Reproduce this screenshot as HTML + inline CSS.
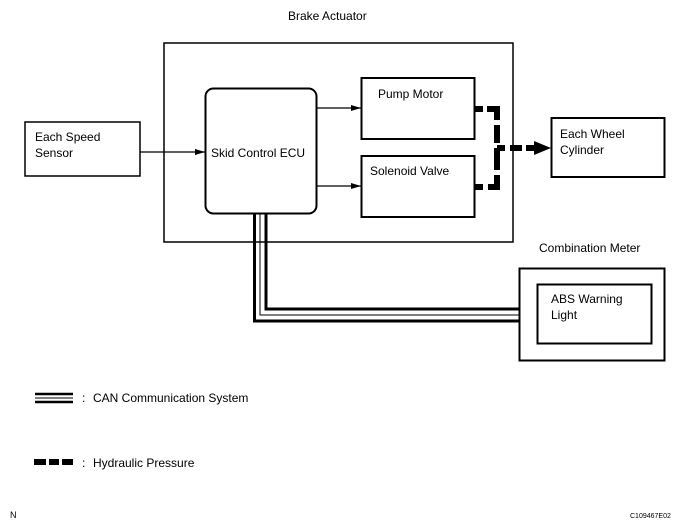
<!DOCTYPE html>
<html><head><meta charset="utf-8"><style>
body{margin:0;background:#fff}
svg{display:block}
text{font-family:"Liberation Sans",Arial,sans-serif;fill:#000}
</style></head><body>
<svg width="690" height="528" viewBox="0 0 690 528">
<defs><marker id="a" markerWidth="10" markerHeight="6" refX="10" refY="3" orient="auto" markerUnits="userSpaceOnUse"><path d="M0,0L10,3L0,6z"/></marker></defs>
<g fill="none" stroke="#000">
<rect x="164" y="43" width="349" height="199" stroke-width="1.5"/>
<rect x="205.5" y="88.5" width="111" height="125" rx="8" stroke-width="2"/>
<rect x="361.5" y="78" width="113" height="61" stroke-width="2"/>
<rect x="361.5" y="156" width="113" height="61" stroke-width="2"/>
<rect x="25" y="122" width="115" height="54" stroke-width="1.5"/>
<rect x="551.5" y="118" width="113" height="59" stroke-width="2"/>
<rect x="519.5" y="268.5" width="145" height="92" stroke-width="2"/>
<rect x="537.5" y="284.5" width="114" height="59" stroke-width="2"/>
<g stroke-width="1.2">
<line x1="140" y1="152" x2="205" y2="152" marker-end="url(#a)"/>
<line x1="317" y1="108" x2="361" y2="108" marker-end="url(#a)"/>
<line x1="317" y1="186" x2="361" y2="186" marker-end="url(#a)"/>
</g>
<g stroke-width="6">
<path d="M475,109H483M487,109H497V120M497,125V143M497,148V170M497,175V187H488M483,187H475"/>
<path d="M497,148H505M510,148H522M526,148H536"/>
</g>
<g stroke-width="3">
<path d="M254.5,214V321H519"/>
<path d="M266,214V309H519"/>
</g>
<path d="M260,214V315H519" stroke-width="1"/>
<path d="M35,394H73M35,402H73" stroke-width="2.5"/>
<path d="M35,398H73" stroke-width="1"/>
<path d="M34,462H46M49,462H59M62,462H73" stroke-width="6"/>
</g>
<path d="M534,141L551,148L534,155z"/>
<g font-size="12">
<text x="288" y="20">Brake Actuator</text>
<text x="211" y="157">Skid Control ECU</text>
<text x="378" y="98">Pump Motor</text>
<text x="370" y="175">Solenoid Valve</text>
<text x="35" y="141">Each Speed</text>
<text x="35" y="157">Sensor</text>
<text x="560" y="138">Each Wheel</text>
<text x="560" y="154">Cylinder</text>
<text x="539" y="252">Combination Meter</text>
<text x="551" y="303">ABS Warning</text>
<text x="551" y="319">Light</text>
<text x="82" y="402">:</text>
<text x="93" y="402">CAN Communication System</text>
<text x="82" y="467">:</text>
<text x="93" y="467">Hydraulic Pressure</text>
</g>
<text x="10" y="518" font-size="9">N</text>
<text x="630" y="518" font-size="7">C109467E02</text>
</svg>
</body></html>
